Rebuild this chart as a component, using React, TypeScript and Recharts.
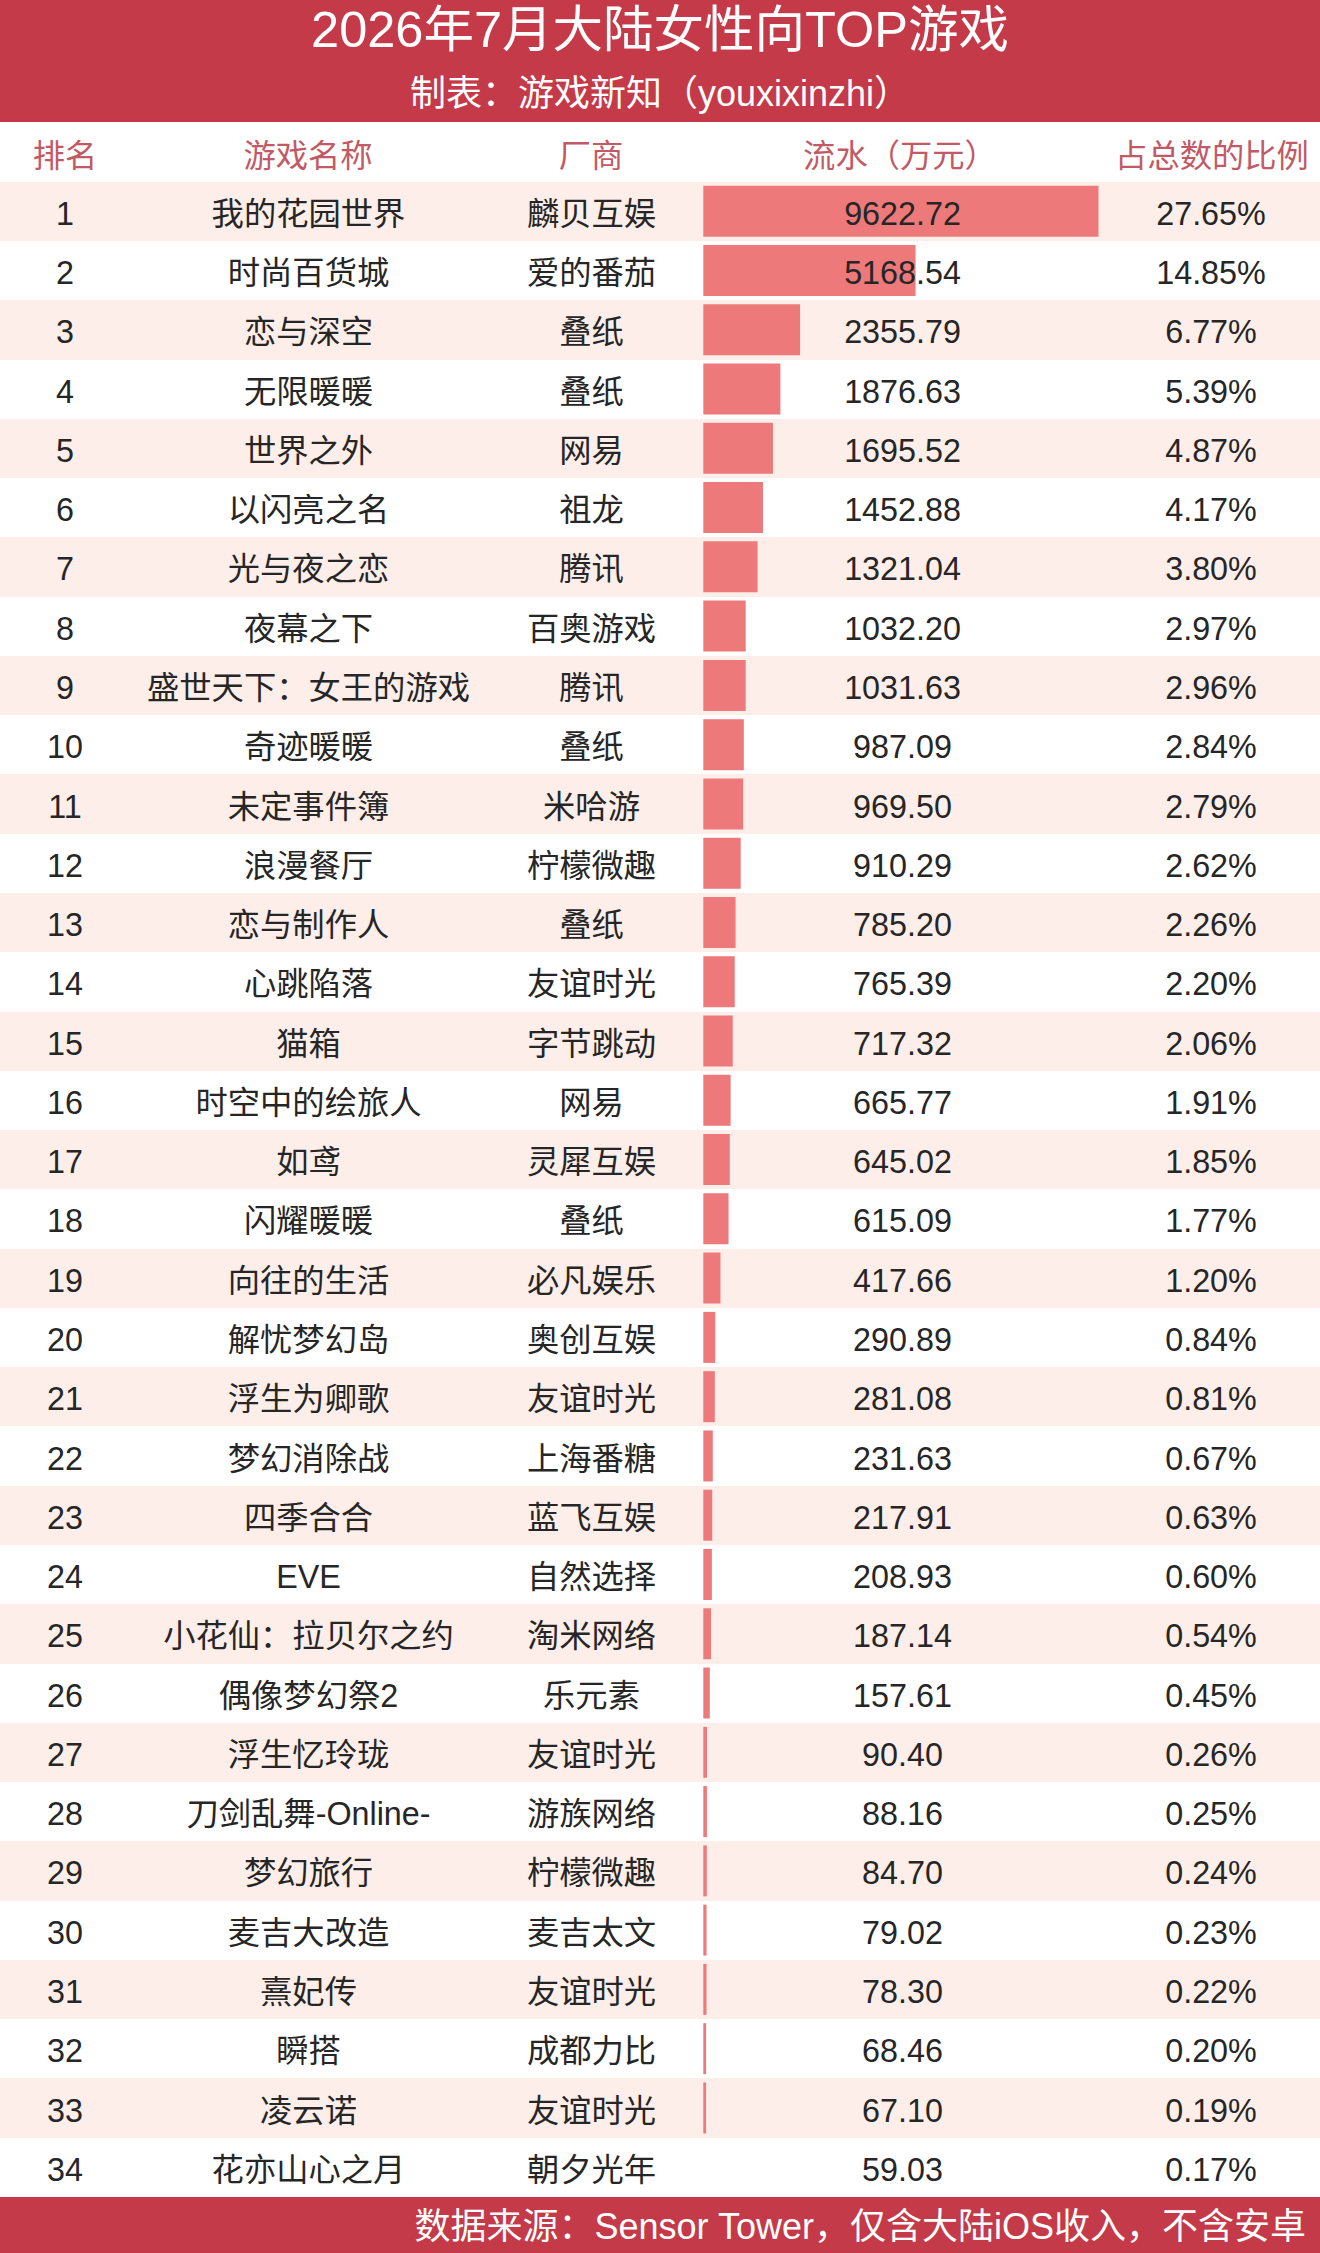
import { BarChart, Bar, XAxis, YAxis } from "recharts";

const games = [
  "我的花园世界", "时尚百货城", "恋与深空", "无限暖暖", "世界之外", "以闪亮之名", "光与夜之恋",
  "夜幕之下", "盛世天下：女王的游戏", "奇迹暖暖", "未定事件簿", "浪漫餐厅", "恋与制作人", "心跳陷落",
  "猫箱", "时空中的绘旅人", "如鸢", "闪耀暖暖", "向往的生活", "解忧梦幻岛", "浮生为卿歌", "梦幻消除战",
  "四季合合", "EVE", "小花仙：拉贝尔之约", "偶像梦幻祭2", "浮生忆玲珑", "刀剑乱舞-Online-", "梦幻旅行",
  "麦吉大改造", "熹妃传", "瞬搭", "凌云诺", "花亦山心之月",
];
const vendors = [
  "麟贝互娱", "爱的番茄", "叠纸", "叠纸", "网易", "祖龙", "腾讯", "百奥游戏", "腾讯", "叠纸", "米哈游",
  "柠檬微趣", "叠纸", "友谊时光", "字节跳动", "网易", "灵犀互娱", "叠纸", "必凡娱乐", "奥创互娱", "友谊时光",
  "上海番糖", "蓝飞互娱", "自然选择", "淘米网络", "乐元素", "友谊时光", "游族网络", "柠檬微趣", "麦吉太文",
  "友谊时光", "成都力比", "友谊时光", "朝夕光年",
];
const revenue = [
  9622.72, 5168.54, 2355.79, 1876.63, 1695.52, 1452.88, 1321.04, 1032.2, 1031.63, 987.09, 969.5, 910.29,
  785.2, 765.39, 717.32, 665.77, 645.02, 615.09, 417.66, 290.89, 281.08, 231.63, 217.91, 208.93, 187.14,
  157.61, 90.4, 88.16, 84.7, 79.02, 78.3, 68.46, 67.1, 59.03,
];
const shares = [
  "27.65%", "14.85%", "6.77%", "5.39%", "4.87%", "4.17%", "3.80%", "2.97%", "2.96%", "2.84%", "2.79%",
  "2.62%", "2.26%", "2.20%", "2.06%", "1.91%", "1.85%", "1.77%", "1.20%", "0.84%", "0.81%", "0.67%", "0.63%",
  "0.60%", "0.54%", "0.45%", "0.26%", "0.25%", "0.24%", "0.23%", "0.22%", "0.20%", "0.19%", "0.17%",
];
const columnHeads = ["排名", "游戏名称", "厂商", "流水（万元）", "占总数的比例"];

const WIDTH = 1320;
const HEIGHT = 2253;
const ROWS_TOP = 181.7;
const ROWS_BOTTOM = 2197;
const ROW_H = (ROWS_BOTTOM - ROWS_TOP) / games.length;
const RED = "#c43a48";
const FONT = '"Liberation Sans", "Noto Sans CJK SC", sans-serif';

// 原图最后一行没有画条
const data = games.map((name, i) => ({
  name,
  value: i < games.length - 1 ? revenue[i] : undefined,
}));

const colX = [65, 308.5, 591.5, 902.5, 1211];
const headX = [65, 308, 591, 900, 1212];

function RowTick({ y, index }: any) {
  const cells = [String(index + 1), games[index], vendors[index], revenue[index].toFixed(2), shares[index]];
  return (
    <g>
      {cells.map((t, i) => (
        <text key={i} x={colX[i]} y={y} dy={13.5} textAnchor="middle" fontSize={32.3} fill="#262626" fontFamily={FONT}>
          {t}
        </text>
      ))}
    </g>
  );
}

function Banner({ top, height, text, size }: any) {
  return (
    <div
      style={{
        position: "absolute",
        top,
        left: 0,
        width: WIDTH,
        height,
        lineHeight: `${height}px`,
        textAlign: "center",
        color: "#fff",
        fontSize: size,
        whiteSpace: "nowrap",
      }}
    >
      {text}
    </div>
  );
}

export default function App() {
  return (
    <div style={{ position: "absolute", left: 0, top: 0, width: WIDTH, height: HEIGHT, background: "#fff", fontFamily: FONT, overflow: "hidden" }}>
      <div style={{ position: "absolute", left: 0, top: 0, width: WIDTH, height: 122, background: RED }} />
      <Banner top={0} height={60} text="2026年7月大陆女性向TOP游戏" size={50.5} />
      <Banner top={69} height={50} text="制表：游戏新知（youxixinzhi）" size={36} />

      {columnHeads.map((h, i) => (
        <div
          key={h}
          style={{
            position: "absolute",
            left: headX[i] - 150,
            width: 300,
            top: 128,
            height: 56,
            lineHeight: "56px",
            textAlign: "center",
            fontSize: 32.3,
            color: "#c25a66",
          }}
        >
          {h}
        </div>
      ))}

      {games.map((g, i) =>
        i % 2 === 0 ? (
          <div
            key={g}
            style={{ position: "absolute", left: 0, width: WIDTH, top: ROWS_TOP + i * ROW_H, height: ROW_H, background: "#fdeeea" }}
          />
        ) : null
      )}

      <div style={{ position: "absolute", left: 0, top: 0 }}>
        <BarChart
          width={WIDTH}
          height={HEIGHT}
          data={data}
          layout="vertical"
          margin={{ top: ROWS_TOP, bottom: HEIGHT - ROWS_BOTTOM, left: 0, right: 221.5 }}
        >
          <XAxis type="number" hide domain={[0, 9622.72]} />
          <YAxis
            type="category"
            dataKey="name"
            width={703.3}
            interval={0}
            axisLine={false}
            tickLine={false}
            tick={<RowTick />}
          />
          <Bar dataKey="value" fill="#ee797a" barSize={51} isAnimationActive={false} />
        </BarChart>
      </div>

      <div style={{ position: "absolute", left: 0, top: ROWS_BOTTOM, width: WIDTH, height: HEIGHT - ROWS_BOTTOM, background: RED }} />
      <div
        style={{
          position: "absolute",
          right: 14,
          top: ROWS_BOTTOM,
          height: HEIGHT - ROWS_BOTTOM,
          lineHeight: `${HEIGHT - ROWS_BOTTOM + 4}px`,
          color: "#fff",
          fontSize: 36,
          whiteSpace: "nowrap",
        }}
      >
        数据来源：Sensor Tower，仅含大陆iOS收入，不含安卓
      </div>
    </div>
  );
}
